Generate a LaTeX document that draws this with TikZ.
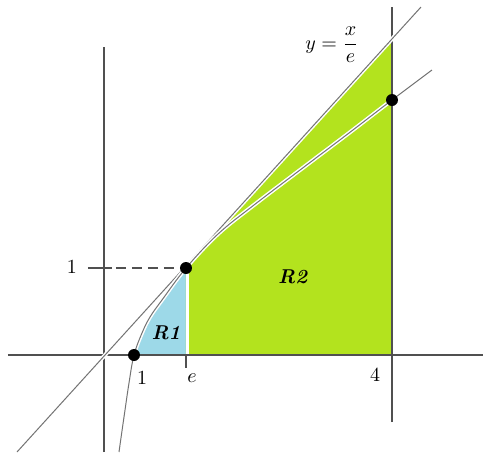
\documentclass[tikz,border=0pt]{standalone}
\usepackage{amsmath}
\usepackage{xcolor}
\usepackage{tikz}
\definecolor{regblue}{HTML}{9DD9E8}
\definecolor{reggreen}{HTML}{B3E31E}
\definecolor{axgray}{HTML}{505050}
\tikzset{dot/.style={circle, fill, inner sep=0pt, minimum size=6pt}}
\tikzset{halo/.style={draw=white, line width=2pt}}
\tikzset{curve/.style={draw=axgray!80, line width=0.5pt}}

\begin{document}
\begin{tikzpicture}[x=0.5pt, y=0.5pt, thick]

	\useasboundingbox (-104,-97) rectangle (379,355);

	\coordinate (O) at (0,0);
	\coordinate (A) at (30,0);
	\coordinate (B) at (82,87);
	\coordinate (C) at (288,255);
	\coordinate (E) at (82,0);
	\coordinate (F) at (288,0);
	\coordinate (Ftop) at (288,316);

	% regions
	\fill[regblue] plot[smooth, tension=0.6] coordinates {(30,0) (38,22) (46,38) (58,55) (82,87)} -- (E) -- cycle;
	\fill[reggreen] (E) -- (B) -- (Ftop) -- (F) -- cycle;
	\draw[white, line width=1.8pt] (83.5,0) -- (83.5,86);

	% axes
	\draw[axgray, line width=0.7pt] (-96,0) -- (379,0);
	\draw[axgray, line width=0.7pt] (0,-97) -- (0,308);
	\draw[axgray, line width=0.7pt] (288,-67) -- (288,348);
	\draw[axgray, line width=0.6pt] (82,0) -- (82,-13);

	% y = x/e and the curve
	\draw[halo] (-87,-97) -- (317,348);
	\draw[curve] (-87,-97) -- (317,348);
	\draw[halo] plot[smooth, tension=0.6] coordinates {(15,-97) (20,-62) (25,-28) (30,0) (38,22) (46,38) (58,55) (82,87) (114,121) (150,150) (200,188) (245,222) (288,255) (328,285)};
	\draw[curve] plot[smooth, tension=0.6] coordinates {(15,-97) (20,-62) (25,-28) (30,0) (38,22) (46,38) (58,55) (82,87) (114,121) (150,150) (200,188) (245,222) (288,255) (328,285)};

	% level 1
	\draw[axgray, line width=0.6pt] (-16,87) -- (8,87);
	\draw[axgray, line width=0.6pt, dash pattern=on 5pt off 3pt] (12,87) -- (B);

	\node[dot] (pA) at (A) {};
	\node[dot] (pB) at (B) {};
	\node[dot] (pC) at (C) {};

	\node (lone) at (-32,88) {1};
	\node (xone) at (38,-23) {1};
	\node (xe) at (88,-23) {$e$};
	\node (xfour) at (271,-20) {4};
	\node (rone) at (62,22) {\textbf{\textit{R1}}};
	\node (rtwo) at (189,78) {\textbf{\textit{R2}}};
	\node (eq) at (228,310) {$y=\dfrac{x}{e}$};

\end{tikzpicture}
\end{document}
